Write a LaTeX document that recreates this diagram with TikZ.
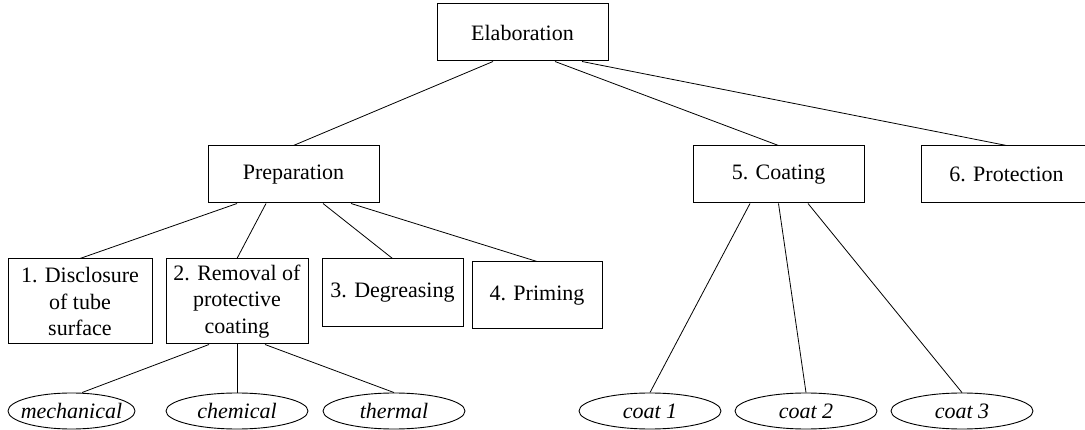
\documentclass[tikz,border=0pt]{standalone}
\usepackage{fontspec}
\setmainfont{LiberationSerif}[Extension=.ttf, UprightFont=*-Regular, ItalicFont=*-Italic, BoldFont=*-Bold, BoldItalicFont=*-BoldItalic]
\usetikzlibrary{shapes.geometric}
\begin{document}
\begin{tikzpicture}[x=1pt,y=-1pt,
  box/.style={draw, line width=1pt, rectangle, inner sep=0pt, align=center,
    font=\rmfamily\fontsize{22}{26.5}\selectfont},
  oval/.style={draw, line width=0.9pt, ellipse, inner sep=0pt, minimum height=36pt,
    font=\rmfamily\fontsize{22}{26.5}\selectfont\itshape},
  link/.style={draw, line width=0.8pt}]
\useasboundingbox (0,0) rectangle (1085,430);
\clip (0,0) rectangle (1085,430);
% top level
\node[box, minimum width=171pt, minimum height=57pt] (elab) at (522.5,32.5) {Elaboration};
% second level
\node[box, minimum width=171pt, minimum height=57pt] (prep) at (293.5,174.5) {Preparation};
\node[box, minimum width=171pt, minimum height=57pt] (coat) at (778.5,174.5) {5. Coating};
\node[box, minimum width=171pt, minimum height=57pt] (prot) at (1006.5,174.5) {6. Protection};
% third level
\node[box, minimum width=144pt, minimum height=85pt] (d1) at (80,301.5) {1. Disclosure\\of tube\\surface};
\node[box, minimum width=142pt, minimum height=85pt] (d2) at (237,301.5) {2. Removal of\\protective\\coating};
\node[box, minimum width=141pt, minimum height=68pt] (d3) at (392.5,293) {3. Degreasing};
\node[box, minimum width=130pt, minimum height=67pt] (d4) at (537,295.5) {4. Priming};
% ellipses
\node[oval, minimum width=127pt] (mech) at (71.5,411) {\makebox[0pt]{mechanical}};
\node[oval, minimum width=142pt] (chem) at (237,411) {\makebox[0pt]{chemical}};
\node[oval, minimum width=142pt] (therm) at (394,411) {\makebox[0pt]{thermal}};
\node[oval, minimum width=142pt] (c1) at (650,411) {\makebox[0pt]{coat 1}};
\node[oval, minimum width=142pt] (c2) at (806,411) {\makebox[0pt]{coat 2}};
\node[oval, minimum width=142pt] (c3) at (962,411) {\makebox[0pt]{coat 3}};
% connectors
\path[link] ([xshift=-29.5pt]elab.south) -- (prep.north);
\path[link] ([xshift=32.5pt]elab.south) -- (coat.north);
\path[link] ([xshift=59.5pt]elab.south) -- (prot.north);
\path[link] ([xshift=-56.5pt]prep.south) -- (d1.north);
\path[link] ([xshift=-27.5pt]prep.south) -- (d2.north);
\path[link] ([xshift=29.5pt]prep.south) -- (d3.north);
\path[link] ([xshift=57.5pt]prep.south) -- (d4.north);
\path[link] ([xshift=-28pt]d2.south) -- ([xshift=10.5pt]mech.north);
\path[link] (d2.south) -- (chem.north);
\path[link] ([xshift=28pt]d2.south) -- (therm.north);
\path[link] ([xshift=-28.5pt]coat.south) -- (c1.north);
\path[link] (coat.south) -- (c2.north);
\path[link] ([xshift=29.5pt]coat.south) -- (c3.north);
\end{tikzpicture}
\end{document}
